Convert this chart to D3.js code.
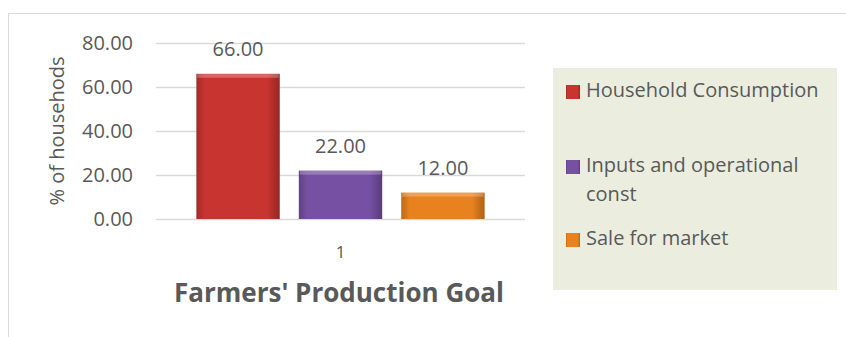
<!DOCTYPE html>
<html>
<head>
<meta charset="utf-8">
<script src="https://cdn.jsdelivr.net/npm/d3@7"></script>
<style>
  body { margin: 0; background: #fff; }
  text { font-family: "Open Sans", "Noto Sans", sans-serif; fill: #595959; }
</style>
</head>
<body>
<svg id="chart" width="846" height="337"></svg>
<script>
// chart data
const categories = ["1"];
const seriesNames = ["Household Consumption", "Inputs and operational const", "Sale for market"];
const seriesValues = [66.00, 22.00, 12.00];
const yTicks = [0, 20, 40, 60, 80];
const seriesColors = ["#c8342f", "#7650a3", "#e8821e"];

const svg = d3.select("#chart");

// outer frame
svg.append("path")
    .attr("d", "M8.5,337 V13.5 H846")
    .attr("fill", "none")
    .attr("stroke", "#d9d9d9")
    .attr("stroke-width", 1);

const plot = {left: 156, right: 525, top: 43, bottom: 219};

let y = d3.scaleLinear().domain([0, 80]).range([plot.bottom, plot.top]);
let x0 = d3.scaleBand().domain(categories).range([plot.left, plot.right]).paddingInner(0).paddingOuter(0.14);
let x1 = d3.scaleBand().domain(seriesNames).range([0, x0.bandwidth()]).paddingInner(0.186);

// gradients for the bevel look
const defs = svg.append("defs");
seriesColors.forEach((c, i) => {
    let g = defs.append("linearGradient").attr("id", "grad" + i).attr("x1", 0).attr("x2", 1).attr("y1", 0).attr("y2", 0);
    g.append("stop").attr("offset", "0%").attr("stop-color", d3.color(c).darker(0.6));
    g.append("stop").attr("offset", "10%").attr("stop-color", c);
    g.append("stop").attr("offset", "85%").attr("stop-color", c);
    g.append("stop").attr("offset", "100%").attr("stop-color", d3.color(c).darker(0.8));
});

// gridlines
svg.append("g")
    .selectAll("line")
    .data(yTicks)
    .join("line")
    .attr("x1", plot.left)
    .attr("x2", plot.right)
    .attr("y1", d => Math.round(y(d)) + 0.5)
    .attr("y2", d => Math.round(y(d)) + 0.5)
    .attr("stroke", "#d9d9d9")
    .attr("stroke-width", 1.5);

// y axis labels
svg.append("g")
    .selectAll("text")
    .data(yTicks)
    .join("text")
    .attr("x", 133)
    .attr("y", d => y(d))
    .attr("dy", "0.35em")
    .attr("text-anchor", "end")
    .style("font-size", "20px")
    .text(d => d3.format(".2f")(d));

svg.append("text")
    .attr("transform", "translate(64,131) rotate(-90)")
    .attr("text-anchor", "middle")
    .style("font-size", "20px")
    .text("% of househods");

// bars
const grp = svg.append("g")
    .selectAll("g")
    .data(categories)
    .join("g")
    .attr("transform", d => `translate(${x0(d)},0)`);

const barData = seriesNames.map((n, i) => ({name: n, value: seriesValues[i], i: i}));

grp.selectAll("rect.bar")
    .data(barData)
    .join("rect")
    .attr("class", "bar")
    .attr("x", d => x1(d.name))
    .attr("y", d => y(d.value))
    .attr("width", x1.bandwidth())
    .attr("height", d => y(0) - y(d.value))
    .attr("fill", d => `url(#grad${d.i})`);

// top highlight of bars
grp.selectAll("rect.hl")
    .data(barData)
    .join("rect")
    .attr("class", "hl")
    .attr("x", d => x1(d.name) + 1)
    .attr("y", d => y(d.value))
    .attr("width", x1.bandwidth() - 2)
    .attr("height", 4)
    .attr("fill", "#fff")
    .attr("opacity", 0.25);

grp.selectAll("text.val")
    .data(barData)
    .join("text")
    .attr("class", "val")
    .attr("x", d => x1(d.name) + x1.bandwidth() / 2)
    .attr("y", d => y(d.value) - 18)
    .attr("text-anchor", "middle")
    .style("font-size", "20px")
    .text(d => d3.format(".2f")(d.value));

// category label
svg.append("g")
    .selectAll("text")
    .data(categories)
    .join("text")
    .attr("x", d => x0(d) + x0.bandwidth() / 2)
    .attr("y", 258)
    .attr("text-anchor", "middle")
    .style("font-size", "17px")
    .text(d => d);

// x title
svg.append("text")
    .attr("x", 339)
    .attr("y", 302)
    .attr("text-anchor", "middle")
    .style("font-size", "26px")
    .style("font-weight", "bold")
    .text("Farmers' Production Goal");

// legend
svg.append("rect")
    .attr("x", 553)
    .attr("y", 68)
    .attr("width", 284)
    .attr("height", 222)
    .attr("fill", "#ebeedf");

const legendRows = [
    {lines: ["Household Consumption"], y: 90},
    {lines: ["Inputs and operational", "const"], y: 165},
    {lines: ["Sale for market"], y: 238}
];

legendRows.forEach((r, i) => {
    svg.append("rect")
        .attr("x", 566)
        .attr("y", r.y - 5)
        .attr("width", 14)
        .attr("height", 14)
        .attr("fill", `url(#grad${i})`);
    let t = svg.append("text")
        .attr("x", 586)
        .attr("y", r.y)
        .style("font-size", "20px");
    r.lines.forEach((l, j) => {
        t.append("tspan").attr("x", 586).attr("dy", j === 0 ? "0.35em" : "29px").text(l);
    });
});
</script>
</body>
</html>
